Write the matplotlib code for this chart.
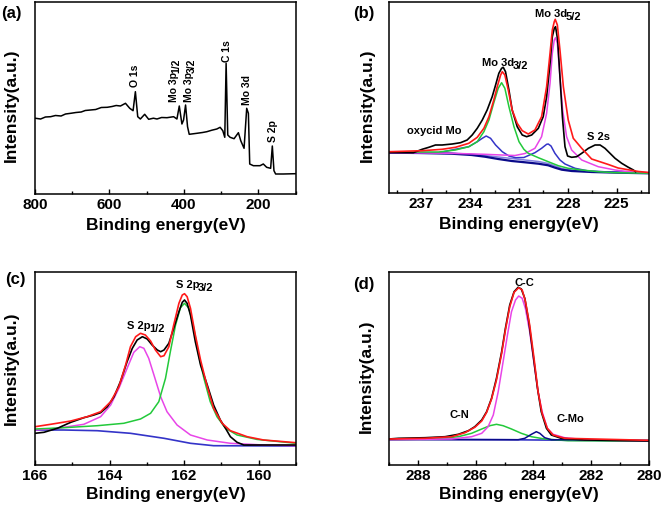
import matplotlib
matplotlib.use("Agg")
import matplotlib.pyplot as plt
from matplotlib.ticker import MultipleLocator

plt.rcParams["font.family"] = ["Liberation Sans", "DejaVu Sans"]
plt.rcParams["font.weight"] = "bold"

# === (a) survey ===
a_energy = [798, 785, 772, 758, 745, 730, 718, 704, 690, 676, 665, 651, 637, 622, 606, 593, 582,
            570.5, 557, 545.5, 536.6, 530.4, 524.1, 517, 505.4, 494.7, 482, 472.4, 460, 445.6,
            427.7, 418.8, 412.5, 405.4, 401, 395.6, 390.3, 385.8, 365.3, 350, 338.5, 325,
            311.7, 302.8, 295.6, 290.3, 286.7, 282.3, 276, 265.3, 253.7, 247.4, 238.5, 231.4,
            226.9, 223.3, 213.5, 195.7, 186.8, 177.8, 167.1, 162.6, 158.2, 153.7, 133.2, 100]
a_counts = [75.7, 75, 77, 77.3, 78.5, 78, 80, 80.7, 81.5, 82, 83.5, 84, 84.5, 86.5, 86.7, 87.5, 88.5,
            88, 90.7, 85.7, 83.3, 102.3, 77.3, 75, 79.7, 74.7, 75.8, 75, 76.5, 76.3,
            77.3, 75, 88, 70, 74, 89, 67.3, 59.7, 60.7, 61.5, 62.3, 63.8,
            65, 66.7, 63.3, 56.7, 130.7, 59, 56.7, 55.3, 61.3, 53.3, 45.7, 85.7,
            80.7, 30, 28.3, 28.3, 30, 26.7, 25.7, 48, 23.3, 20, 20, 20.3]
a_labels = ["O 1s", "Mo 3p", "Mo 3p", "C 1s", "Mo 3d", "S 2p"]
a_subs = ["", "1/2", "3/2", "", "", ""]
a_label_x = [530.4, 427.8, 385.8, 284.9, 229.7, 160]
a_label_y = [106.7, 92.3, 92.3, 132.3, 89, 52.3]

# === (b) Mo 3d ===
b_raw_e = [239.0, 237.5, 236.96, 236.55, 236.14, 235.73, 235.11, 234.60, 234.19, 233.88, 233.57,
           233.26, 232.96, 232.65, 232.44, 232.24, 232.07, 231.97, 231.83, 231.62, 231.42,
           231.11, 230.80, 230.53, 230.22, 229.81, 229.51, 229.30, 229.09, 228.95, 228.83,
           228.75, 228.62, 228.48, 228.33, 228.17, 228.01, 227.76, 227.45, 227.14, 226.73,
           226.32, 226.01, 225.71, 225.40, 225.09, 224.68, 224.27, 223.96, 223.82]
b_raw_i = [40.5, 40.3, 43.7, 45.7, 48, 48, 49, 50.3, 53, 58, 64.7,
           73, 83, 96.3, 108, 119.7, 124.7, 125.7, 121.3, 103, 83,
           66.3, 58, 56.3, 58, 64.7, 76.3, 96.3, 129.7, 156.3, 164.7,
           166.3, 153, 116.3, 76.3, 46.3, 37, 35.7, 36.3, 39.7, 44.7,
           48, 48, 44.7, 39.7, 34.7, 29.7, 25.7, 23, 21.3]
b_fit_e = [239.0, 236.96, 235.73, 234.91, 234.09, 233.57, 233.16, 232.85, 232.55, 232.34, 232.13,
           232.03, 231.87, 231.66, 231.42, 231.11, 230.8, 230.43, 230.02, 229.61, 229.30,
           229.09, 228.95, 228.83, 228.77, 228.64, 228.48, 228.27, 227.97, 227.66, 227.14,
           226.53, 225.5, 224.9, 223.65, 223.0]
b_fit_i = [41.3, 42.3, 43.7, 45.7, 49.7, 55.7, 64.7, 76.3, 93, 106.3, 118,
           121.3, 118, 103, 83, 69.7, 62.3, 59, 63, 76.3, 106.3,
           139.7, 163, 171.3, 173.7, 168, 143, 106.3, 73, 54.7, 44.7,
           34, 28.5, 25, 21.5, 20.5]
b_d32_e = [239.0, 235.94, 234.91, 234.09, 233.57, 233.16, 232.85, 232.55, 232.28, 232.07, 231.87,
           231.62, 231.31, 231.0, 230.70, 230.43, 229.81, 229.2, 228.58, 227.97, 227.14,
           226.12, 225.09, 223.0]
b_d32_i = [41, 41, 43, 46.3, 51.3, 61.3, 73, 90.3, 104.7, 110.3, 104.7,
           86.3, 66.3, 51.3, 43.7, 39.7, 35.3, 31.3, 27.3, 24.7, 23,
           21.3, 20.3, 19.8]
b_d52_e = [239.0, 235.15, 233.1, 232.07, 231.25, 230.63, 230.02, 229.61, 229.3, 229.09, 228.95,
           228.83, 228.75, 228.64, 228.48, 228.315, 228.07, 227.76, 227.14, 226.12, 225.09,
           224.06, 223.04]
b_d52_i = [40.5, 39.7, 38.7, 38, 37.5, 39.5, 44.7, 56.3, 79.7, 109.7, 139.7,
           153, 155.3, 149.7, 116.3, 83, 56.3, 43, 33, 26.3, 23,
           21, 20.3]
b_ox_e = [239.0, 235.94, 234.91, 234.09, 233.57, 233.26, 233.02, 232.75, 232.44, 232.03, 231.62,
          231.21, 230.70, 230.02, 229.61, 229.30, 229.2, 229.03, 228.79, 228.48, 228.17,
          227.55, 226.73, 225.09, 223.0]
b_ox_i = [40.3, 40.3, 43.7, 46.3, 51.3, 54.7, 57, 54.7, 48, 41.3, 37,
          35.3, 35.5, 40.3, 44.7, 48.7, 49, 47, 39.7, 33, 29,
          24.7, 22, 20.7, 20]
b_bg_e = [239.0, 237.21, 235.15, 233.92, 233.1, 232.28, 231.45, 230.63, 229.81, 229.2, 228.78,
          228.37, 227.76, 226.53, 224.9, 223.0]
b_bg_i = [40.3, 40, 39.3, 38, 36.3, 34, 32, 30.7, 29.3, 27.7, 25.3,
          23.3, 22, 21, 20.3, 19.7]
b_bg2_i = [40.6, 40.3, 39.8, 38.8, 37.5, 36, 34.5, 33, 31.5, 29.5, 27,
           24.5, 23, 21.6, 20.8, 20.2]
b_labels = ["oxycid Mo", "Mo 3d", "Mo 3d", "S 2s"]
b_subs = ["", "3/2", "5/2", ""]
b_label_x = [237.89, 233.3, 230.02, 226.8]
b_label_y = [59, 127.3, 176, 53]

# === (c) S 2p ===
c_raw_e = [166.0, 165.76, 165.40, 165.04, 164.69, 164.42, 164.24, 164.06, 163.88, 163.71, 163.53,
           163.39, 163.26, 163.12, 162.99, 162.86, 162.72, 162.63, 162.54, 162.41, 162.28,
           162.14, 162.05, 161.99, 161.92, 161.83, 161.70, 161.56, 161.38, 161.21, 161.03,
           160.89, 160.76, 160.58, 160.40, 159.87, 159.0]
c_raw_i = [31.7, 32.7, 36.7, 42.7, 47.3, 50, 52.3, 58.3, 68.3, 83.3, 103.3,
           116.7, 125, 128.3, 126, 120, 115, 113.3, 115, 121.7, 136.7,
           153.3, 162.7, 165, 161.7, 150, 123.3, 100, 80, 60, 45,
           36.7, 28.3, 22.7, 20, 20, 20]
c_fit_e = [166.0, 165.58, 165.04, 164.6, 164.24, 163.97, 163.75, 163.57, 163.44, 163.30, 163.17,
           163.04, 162.90, 162.77, 162.63, 162.54, 162.41, 162.28, 162.14, 162.05, 161.99,
           161.92, 161.83, 161.70, 161.56, 161.38, 161.21, 160.98, 160.76, 160.31, 159.87,
           159.0]
c_fit_i = [38.3, 40.7, 44, 48.3, 53.3, 63.3, 78.3, 100, 118.3, 128.3, 131.7,
           130, 124, 115, 108.3, 109.3, 118.3, 140, 161.7, 170, 171.3,
           168.3, 156.7, 130, 105, 78.3, 56.7, 41.7, 34.3, 28.3, 25,
           22.3]
c_p32_e = [166.0, 165.22, 164.33, 163.62, 163.17, 162.90, 162.68, 162.5, 162.37, 162.23, 162.1,
           161.99, 161.87, 161.74, 161.61, 161.47, 161.30, 161.12, 160.89, 160.58, 160.05,
           159.0]
c_p32_i = [36, 37.3, 39.3, 41.7, 46, 51.7, 63.3, 86.7, 113.3, 140, 157.3,
           161.7, 156.7, 136.7, 110, 86.7, 63.3, 48.3, 36.7, 30, 25.6,
           21.7]
c_p12_e = [166.0, 165.40, 164.69, 164.24, 163.97, 163.75, 163.53, 163.35, 163.19, 163.08, 162.95,
           162.81, 162.63, 162.46, 162.19, 161.83, 161.38, 160.76, 159.87, 159.0]
c_p12_i = [35, 36.7, 40.7, 48.3, 60, 76.7, 96.7, 112.7, 118.3, 116.7, 106.7,
           90, 68.3, 53.3, 40, 30, 25, 21.7, 20, 19.3]
c_bg_e = [166.0, 165.22, 164.33, 163.44, 162.54, 161.83, 161.21, 159.0]
c_bg_i = [35, 35, 34.3, 31.7, 26.7, 21.7, 19.3, 19]
c_labels = ["S 2p", "S 2p"]
c_subs = ["1/2", "3/2"]
c_label_x = [163.53, 162.23]
c_label_y = [136, 176.7]

# === (d) C 1s ===
d_raw_e = [289.0, 288.67, 287.75, 287.06, 286.60, 286.25, 286.03, 285.79, 285.62, 285.45, 285.28,
           285.10, 284.97, 284.82, 284.67, 284.53, 284.42, 284.30, 284.16, 284.01, 283.86,
           283.73, 283.55, 283.38, 283.04, 282.23, 280.0]
d_raw_i = [26, 26.7, 27.3, 28.3, 30.7, 34.3, 38.3, 45, 53.3, 66.7, 86.7,
           113.3, 136.7, 160, 173.3, 177.7, 176, 166.7, 143.3, 110, 76.7,
           53.3, 36.7, 30, 26.7, 25, 24]
d_fit_e = [289.0, 287.75, 286.83, 286.37, 286.03, 285.79, 285.62, 285.45, 285.28, 285.10, 284.97,
           284.82, 284.67, 284.51, 284.39, 284.28, 284.13, 283.98, 283.84, 283.70, 283.52,
           283.32, 282.92, 280.0]
d_fit_i = [26, 26.7, 28.3, 32.3, 37.7, 44, 52.7, 66, 85, 111.7, 135,
           158.3, 172.7, 177.3, 175, 164, 140, 106.7, 73.3, 51.7, 36.7,
           30, 26.7, 24.7]
d_cc_e = [289.0, 286.83, 286.14, 285.79, 285.57, 285.39, 285.22, 285.05, 284.90, 284.76, 284.62,
          284.51, 284.39, 284.28, 284.13, 283.98, 283.84, 283.70, 283.52, 283.32, 282.92,
          282.23, 280.0]
d_cc_i = [25.3, 26, 28.3, 31.7, 38.3, 50, 73.3, 103.3, 130, 153.3, 165,
          169, 166.7, 156.7, 133.3, 101.7, 73.3, 53.3, 36.7, 30.7, 27.3,
          25.3, 24]
d_cn_e = [289.0, 287.40, 286.60, 286.14, 285.79, 285.51, 285.28, 285.05, 284.76, 284.42, 284.07,
          283.61, 282.81, 280.0]
d_cn_i = [25.3, 26, 28.3, 31.7, 36, 39.3, 40.7, 39.3, 36, 31.7, 28.3,
          26, 24.3, 24]
d_cmo_e = [289.0, 284.53, 284.30, 284.07, 283.90, 283.78, 283.61, 283.38, 280.0]
d_cmo_i = [25.3, 25.3, 26.7, 30.7, 33.3, 31.7, 27.3, 25.3, 24.7]
d_bg_e = [289.0, 285.0, 280.0]
d_bg_i = [26, 25.3, 24]
d_labels = ["C-C", "C-N", "C-Mo"]
d_label_x = [284.65, 286.89, 283.21]
d_label_y = [179, 46.7, 42.7]

RED = "#ff1a1a"
GREEN = "#22c93a"
MAGENTA = "#e845e8"
BLUE = "#3434c8"
NAVY = "#0a0a8a"
LAV = "#8080e0"

W, H = 663, 508
fig = plt.figure(figsize=(W / 100, H / 100), dpi=100)


def box(l, t, r, b):
    return [l / W, 1 - b / H, (r - l) / W, (b - t) / H]


def style(ax, xlim, ylim, major, minor, ylab_pos, lpad):
    ax.set_xlim(*xlim)
    ax.set_ylim(*ylim)
    ax.xaxis.set_major_locator(MultipleLocator(major))
    ax.xaxis.set_minor_locator(MultipleLocator(minor))
    ax.set_yticks([])
    ax.tick_params(axis="x", which="both", direction="in", top=False, labelsize=11, pad=3,
                   width=1)
    ax.tick_params(axis="x", which="major", length=3.5)
    ax.tick_params(axis="x", which="minor", length=2)
    for s in ax.spines.values():
        s.set_linewidth(1.1)
    ax.set_xlabel("Binding energy(eV)", fontsize=12.5, fontweight="bold", labelpad=lpad)
    ax.set_ylabel("Intensity(a.u.)", fontsize=12.5, fontweight="bold")
    ax.yaxis.set_label_coords(*ylab_pos)


def peak_label(ax, x, y, main, sub="", size=8, rot=False):
    kw = dict(fontsize=size, fontweight="bold")
    if rot:
        t = ax.text(x, y, main, rotation=90, ha="center", va="bottom", **kw)
        if sub:
            ax.annotate(sub, xy=(0, 1), xycoords=t, xytext=(1.8, -0.8), textcoords="offset points",
                        rotation=90, ha="left", va="bottom", **kw)
    else:
        t = ax.text(x, y, main, ha="left", va="baseline", **kw)
        if sub:
            ax.annotate(sub, xy=(1, 0), xycoords=t, xytext=(-0.8, -2.3), textcoords="offset points",
                        ha="left", va="bottom", **kw)


# (a)
ax_a = fig.add_axes(box(35, 2, 296, 194))
ax_a.plot(a_energy, a_counts, color="black", lw=1.1)
for t, s, x, y in zip(a_labels, a_subs, a_label_x, a_label_y):
    peak_label(ax_a, x, y, t, s, size=7.5, rot=True)
style(ax_a, (800, 99), (0, 192), 200, 100, (-0.06, 0.46), 4)

# (b)
ax_b = fig.add_axes(box(389, 2, 649, 193))
ax_b.plot(b_bg_e, b_bg2_i, color=LAV, lw=1.1)
ax_b.plot(b_bg_e, b_bg_i, color=NAVY, lw=1.6)
ax_b.plot(b_ox_e, b_ox_i, color=BLUE, lw=1.1)
ax_b.plot(b_d52_e, b_d52_i, color=MAGENTA, lw=1.1)
ax_b.plot(b_d32_e, b_d32_i, color=GREEN, lw=1.1)
ax_b.plot(b_raw_e, b_raw_i, color="black", lw=1.2)
ax_b.plot(b_fit_e, b_fit_i, color=RED, lw=1.2)
for t, s, x, y in zip(b_labels, b_subs, b_label_x, b_label_y):
    peak_label(ax_b, x, y, t, s)
style(ax_b, (239, 223), (0, 191), 3, 1.5, (-0.054, 0.46), 4)

# (c)
ax_c = fig.add_axes(box(35, 272, 296, 465))
ax_c.plot(c_bg_e, c_bg_i, color=BLUE, lw=1.2)
ax_c.plot(c_p12_e, c_p12_i, color=MAGENTA, lw=1.1)
ax_c.plot(c_p32_e, c_p32_i, color=GREEN, lw=1.1)
ax_c.plot(c_raw_e, c_raw_i, color="black", lw=1.2)
ax_c.plot(c_fit_e, c_fit_i, color=RED, lw=1.2)
for t, s, x, y in zip(c_labels, c_subs, c_label_x, c_label_y):
    peak_label(ax_c, x, y, t, s)
style(ax_c, (166, 159), (0, 193), 2, 1, (-0.06, 0.5), 3)

# (d)
ax_d = fig.add_axes(box(389, 272, 649, 465))
ax_d.plot(d_bg_e, d_bg_i, color=BLUE, lw=1.2)
ax_d.plot(d_cn_e, d_cn_i, color=GREEN, lw=1.1)
ax_d.plot(d_cmo_e, d_cmo_i, color=NAVY, lw=1.1)
ax_d.plot(d_cc_e, d_cc_i, color=MAGENTA, lw=1.1)
ax_d.plot(d_raw_e, d_raw_i, color="black", lw=1.2)
ax_d.plot(d_fit_e, d_fit_i, color=RED, lw=1.2)
for t, x, y in zip(d_labels, d_label_x, d_label_y):
    peak_label(ax_d, x, y, t)
style(ax_d, (289, 280), (0, 193), 2, 1, (-0.06, 0.46), 3)

# panel letters
for t, x, y in [("(a)", 11.7, 13.3), ("(b)", 364, 13.3), ("(c)", 15, 279.5), ("(d)", 364, 284)]:
    fig.text(x / W, 1 - y / H, t, ha="center", va="center", fontsize=12, fontweight="bold")

fig.savefig("out.png", dpi=100)
